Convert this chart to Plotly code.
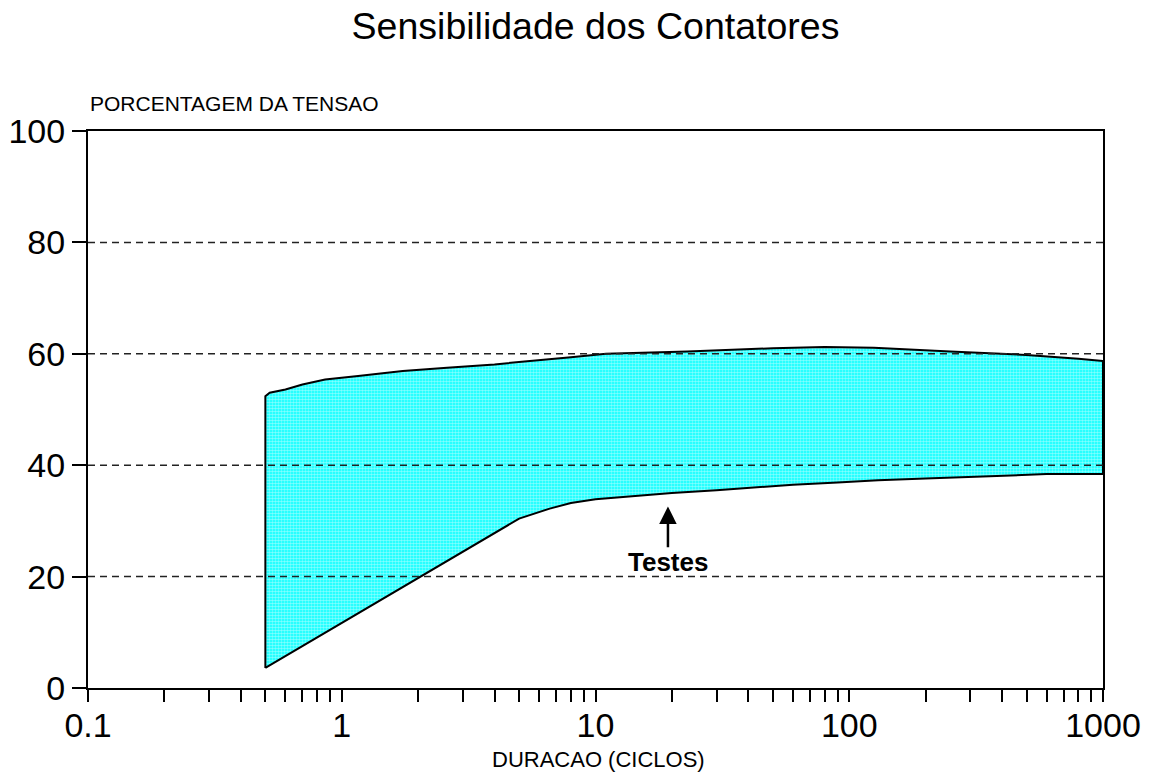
import math
import plotly.graph_objects as go

# Lower boundary of the sensitivity band (duration in cycles, % of voltage)
dur_lower = [0.5, 5, 6.6, 8, 10, 12, 15, 20, 30, 45, 60, 90, 130, 200, 350, 600, 1000]
pct_lower = [3.6, 30.4, 32.2, 33.2, 33.9, 34.2, 34.6, 35.0, 35.5, 36.1, 36.5, 36.9, 37.3, 37.6, 38.0, 38.4, 38.4]

# Upper boundary of the sensitivity band
dur_upper = [0.5, 0.52, 0.6, 0.7, 0.86, 1.16, 1.74, 2.6, 4.0, 5.4, 6.5, 8, 11, 23, 50, 80, 125, 250, 500, 800, 1000]
pct_upper = [52.4, 53.0, 53.6, 54.5, 55.4, 56.0, 56.9, 57.5, 58.1, 58.7, 59.0, 59.4, 60.0, 60.4, 61.0, 61.2, 61.1, 60.4, 59.8, 59.1, 58.7]

# Axis ticks
y_ticks = [0, 20, 40, 60, 80, 100]
y_grid = [20, 40, 60, 80]
decade_labels = {0.1: "0.1", 1: "1", 10: "10", 100: "100", 1000: "1000"}

# Annotation: arrow pointing at the test results curve
arrow_x = 19.3
arrow_tip = 32.6
arrow_tail = 25.0
label_y = 22.7

x_ticks, x_text = [], []
for d in range(-1, 3):
    for m in range(1, 10):
        v = round(m * 10 ** d, 6)
        x_ticks.append(v)
        x_text.append(decade_labels.get(v, ""))
x_ticks.append(1000)
x_text.append("1000")

# Closed polygon: lower curve left-to-right, upper curve right-to-left
poly_x = dur_lower + dur_upper[::-1] + [dur_lower[0]]
poly_y = pct_lower + pct_upper[::-1] + [pct_lower[0]]

SANS = "Liberation Sans, Arial, sans-serif"

fig = go.Figure()
fig.add_trace(go.Scatter(
    x=poly_x, y=poly_y, mode="lines", fill="toself",
    fillcolor="#00ffff",
    fillpattern=dict(shape=".", bgcolor="#00ffff", fgcolor="#ffffff", size=3, solidity=0.6),
    line=dict(color="#000000", width=2),
    hoverinfo="skip", showlegend=False,
))

shapes = [
    dict(type="line", xref="paper", x0=0, x1=1, yref="y", y0=g, y1=g,
         line=dict(color="#222222", width=1.5, dash="7px,5px"), layer="above")
    for g in y_grid
]

fig.update_layout(
    width=1151, height=778,
    margin=dict(l=88, r=48, t=131, b=90),
    paper_bgcolor="white", plot_bgcolor="white",
    title=dict(text="Sensibilidade dos Contatores", x=0.5174, xanchor="center",
               y=1 - 26 / 778, yanchor="middle", yref="container",
               font=dict(family=SANS, size=37.5, color="black")),
    shapes=shapes,
    xaxis=dict(type="log", range=[-1, 3], tickmode="array", tickvals=x_ticks, ticktext=x_text,
               ticks="outside", ticklen=12, tickwidth=1.5, tickcolor="black",
               showline=True, linecolor="black", linewidth=2, mirror=True,
               showgrid=False, zeroline=False, automargin=False,
               ticklabelstandoff=-6,
               tickfont=dict(family=SANS, size=34, color="black")),
    yaxis=dict(range=[0, 100], tickmode="array", tickvals=y_ticks,
               ticks="outside", ticklen=14, tickwidth=1.5, tickcolor="black",
               showline=True, linecolor="black", linewidth=2, mirror=True,
               showgrid=False, zeroline=False, automargin=False,
               tickfont=dict(family=SANS, size=34, color="black")),
    annotations=[
        dict(text="PORCENTAGEM DA TENSAO", xref="paper", yref="paper", x=0, y=1 + 28 / 557.5,
             xanchor="left", yanchor="middle", showarrow=False,
             font=dict(family=SANS, size=21, color="black")),
        dict(text="DURACAO (CICLOS)", xref="paper", yref="paper", x=(598 - 88) / 1015,
             y=-(760 - 688) / 557.5, xanchor="center", yanchor="middle", showarrow=False,
             font=dict(family=SANS, size=22, color="black")),
        dict(text="", x=math.log10(arrow_x), y=arrow_tip, xref="x", yref="y",
             ax=math.log10(arrow_x), ay=arrow_tail, axref="x", ayref="y",
             showarrow=True, arrowhead=2, arrowsize=1.4, arrowwidth=2.5, arrowcolor="black"),
        dict(text="<b>Testes</b>", x=math.log10(arrow_x), y=label_y, xref="x", yref="y",
             showarrow=False, xanchor="center", yanchor="middle",
             font=dict(family=SANS, size=26, color="black")),
    ],
)

fig.write_html("out.html")
